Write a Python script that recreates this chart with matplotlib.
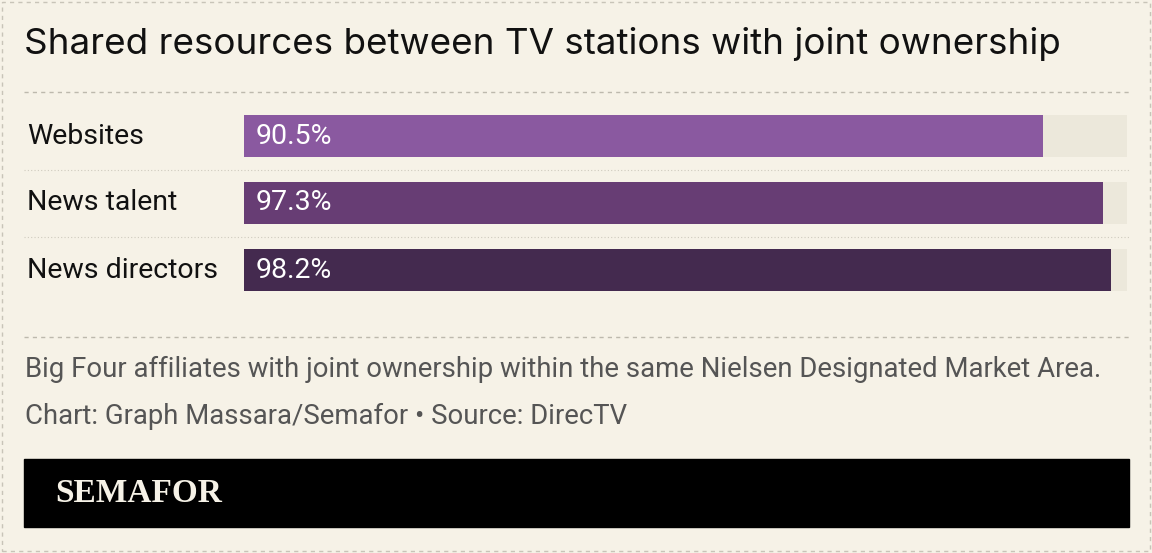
import matplotlib.pyplot as plt
from matplotlib.patches import Rectangle

categories = ["Websites", "News talent", "News directors"]
values = [90.5, 97.3, 98.2]
colors = ["#8a59a0", "#673d74", "#442a4f"]

W, H = 1152, 553
bg = "#f6f2e7"
fig = plt.figure(figsize=(W / 100, H / 100), dpi=100)
fig.patch.set_facecolor(bg)

def fx(px):
    return px / W

def fy(py):
    return 1 - py / H

# outer dashed border
fig.add_artist(Rectangle((fx(2), fy(551)), fx(1148), 549 / H, transform=fig.transFigure,
                         fill=False, ls=(0, (3, 3)), lw=1, ec="#c8c4b8"))

fig.text(fx(24), fy(44), "Shared resources between TV stations with joint ownership",
         family="Inter", fontsize=26.5, color="#111", va="center")

for y in (92, 337):
    fig.add_artist(plt.Line2D([fx(24), fx(1129)], [fy(y), fy(y)], transform=fig.transFigure,
                              ls=(0, (3, 3)), lw=1, color="#bdb9ad"))
for y in (170, 237):
    fig.add_artist(plt.Line2D([fx(24), fx(1129)], [fy(y), fy(y)], transform=fig.transFigure,
                              ls=(0, (1, 2)), lw=0.8, color="#cfcbbf"))

# bars axes: row pitch 67 px, bar height 43 px
top, bottom = 102.5, 303.5
ax = fig.add_axes([fx(244), fy(bottom), fx(1127 - 244), (bottom - top) / H])
ax.set_facecolor("none")
ypos = list(range(len(categories)))
ax.barh(ypos, [100] * len(values), height=0.64, color="#ece8db")
ax.barh(ypos, values, height=0.64, color=colors)
ax.set_xlim(0, 100)
ax.set_ylim(len(categories) - 0.5, -0.5)
for i, (c, v) in enumerate(zip(categories, values)):
    ax.text(1.3, i, f"{v}%", color="white", fontsize=20.5, va="center", family="Roboto")
    ax.text(-24.6, i, c, color="#111", fontsize=20.5, va="center", family="Roboto")
ax.axis("off")

fig.text(fx(25), fy(369), "Big Four affiliates with joint ownership within the same Nielsen Designated Market Area.",
         family="Roboto", fontsize=19.8, color="#555", va="center")
fig.text(fx(25), fy(416), "Chart: Graph Massara/Semafor \u2022 Source: DirecTV",
         family="Roboto", fontsize=19.8, color="#555", va="center")

fig.add_artist(Rectangle((fx(24), fy(527)), fx(1105), 68 / H, transform=fig.transFigure,
                         color="black"))
fig.text(fx(55), fy(493), "SEMAFOR", family="Liberation Serif", weight="bold",
         fontsize=24, color="#f6f2e7", va="center")

fig.savefig("out.png", dpi=100, facecolor=bg)
